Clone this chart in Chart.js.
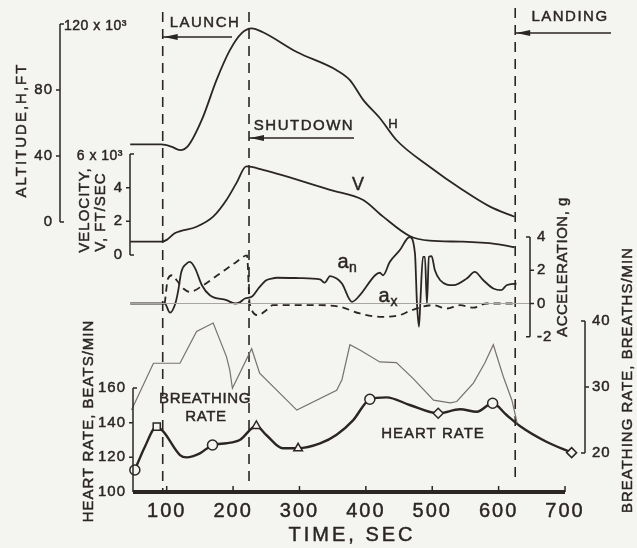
<!DOCTYPE html>
<html>
<head>
<meta charset="utf-8">
<script src="https://cdn.jsdelivr.net/npm/chart.js@4.4.1/dist/chart.umd.min.js"></script>
<style>
  html, body { margin: 0; padding: 0; background: #f4f4f1; }
  #wrap { width: 637px; height: 548px; }
</style>
</head>
<body>
<div id="wrap"><canvas id="flightChart"></canvas></div>
<script>
// time axis, sec
const timeTicks = [100, 200, 300, 400, 500, 600, 700];

// flight events
const eventNames = ['LAUNCH', 'SHUTDOWN', 'LANDING'];
const eventTimes = [94, 224, 625];

// altitude H, 10^3 ft
const altTime = [45, 92, 108, 120, 132, 153, 175, 195, 213, 228, 245, 296, 356, 376, 396, 421, 446, 496, 546, 587, 624];
const altValue = [47, 47, 45.5, 43.6, 46, 62, 86, 104, 114.5, 117.4, 115, 103, 92, 86, 74, 63, 49.7, 33.5, 19.4, 9.3, 3.2];

// velocity V, 10^3 ft/sec
const velTime = [45, 92, 100, 112, 145, 170, 190, 205, 220, 245, 346, 396, 426, 466, 496, 546, 597, 624];
const velValue = [0.79, 0.79, 0.9, 1.29, 1.68, 2.28, 3.27, 4.27, 5.26, 5.06, 3.87, 3.27, 2.28, 1.13, 0.85, 0.79, 0.65, 0.46];

// normal acceleration a_n, g
const anTime = [45, 97, 105, 113, 117, 122, 130, 135, 143, 153, 165, 190, 203, 210, 218, 228, 240, 250, 258, 266, 300, 331, 338, 346, 356, 364, 379, 391, 414, 421, 426, 436, 451, 466, 474, 477, 480, 482, 486, 489, 492, 495, 499, 504, 512, 532, 552, 564, 577, 592, 604, 612, 627];
const anValue = [0, 0, -0.55, 0, 0.7, 1.9, 2.4, 2.5, 2.1, 1.1, 0.5, 0.2, 0, 0.07, 0.3, 0.4, 1.0, 1.4, 1.5, 1.55, 1.53, 1.45, 1.25, 1.65, 1.5, 1.2, 0.1, 0.5, 1.7, 1.85, 1.7, 2.5, 3.2, 4.0, 3.0, 0, -1.4, 0, 2.8, 2.8, 0, 2.8, 2.85, 2.0, 1.4, 1.1, 1.5, 1.9, 1.4, 0.9, 0.8, 1.1, 1.2];

// longitudinal acceleration a_x, g
const axTime = [97, 102, 108, 115, 125, 135, 155, 180, 205, 221, 225, 238, 250, 260, 331, 361, 391, 421, 451, 469, 501, 522, 542, 562, 582, 612, 627];
const axValue = [0, 1.5, 1.7, 1.4, 0.9, 0.7, 1.1, 1.8, 2.5, 2.9, 0, -0.7, -0.4, -0.1, -0.1, -0.2, -0.6, -0.8, -0.7, -0.4, -0.1, -0.3, -0.1, -0.25, 0, 0, 0];

// breathing rate, breaths/min
const breathTime = [47, 80, 120, 145, 170, 190, 195, 199, 228, 240, 296, 356, 364, 376, 391, 421, 446, 471, 502, 527, 537, 562, 579, 592, 607, 620, 628];
const breathRate = [26.5, 33.6, 33.6, 38.4, 39.7, 34.6, 32.6, 29.8, 35.8, 32.1, 26.5, 29.5, 31.1, 36.4, 35.6, 33.8, 33.7, 31.3, 28.0, 27.6, 27.8, 30.6, 33.6, 36.4, 31.6, 28.0, 24.5];

// heart rate, beats/min, with the plotted reading symbols
const heartTime = [52, 67, 85, 95, 120, 130, 150, 169, 190, 210, 235, 250, 275, 298, 331, 356, 381, 406, 431, 466, 509, 542, 567, 591, 612, 632, 672, 710];
const heartRate = [112.7, 126, 137.7, 134.8, 121.3, 120, 122.3, 127.1, 128.1, 130, 138.1, 132.9, 125.2, 125.2, 128, 133, 141.5, 153.5, 154.6, 150.2, 145.4, 147.7, 146.3, 151.2, 144.4, 138.1, 129, 122.7];
const heartSymbol = ['circle', null, 'rect', null, null, null, null, 'circle', null, null, 'triangle', null, null, 'triangle', null, null, null, 'circle', null, null, 'rectRot', null, null, 'circle', null, null, null, 'rectRot'];

// axis ticks
const altTicks = [0, 40, 80, 120];
const velTicks = [0, 2, 4, 6];
const accTicks = [-2, 0, 2, 4];
const breathTicks = [20, 30, 40];
const heartTicks = [100, 120, 140, 160];

const ink = '#2b2623';
const paper = '#f4f4f1';
const W = 637, H = 548;
const font = '"Liberation Sans", Arial, sans-serif';

// min/max for a scale that puts value v0 at pixel p0 and v1 at p1
function range(v0, p0, v1, p1, size, flip) {
  const k = (v1 - v0) / (p1 - p0);
  const atStart = v0 - p0 * k;
  const atEnd = v0 + (size - p0) * k;
  return flip ? { min: atEnd, max: atStart } : { min: atStart, max: atEnd };
}

function pts(xs, ys) {
  return xs.map((x, i) => ({ x: x, y: ys[i] }));
}

// lettering: filled plus a thin outline so the strokes read like pen lettering
function text(ctx, str, x, y, size, spacing, align, upright) {
  ctx.save();
  ctx.translate(x, y);
  if (upright) ctx.rotate(-Math.PI / 2);
  ctx.font = size + 'px ' + font;
  ctx.letterSpacing = (spacing || 0) + 'px';
  ctx.textAlign = align || 'center';
  ctx.textBaseline = 'middle';
  ctx.fillStyle = ink;
  ctx.strokeStyle = ink;
  ctx.lineWidth = 0.45;
  ctx.fillText(str, 0, 0);
  ctx.strokeText(str, 0, 0);
  ctx.restore();
}

// vertical axis: end ticks turn toward the plot, inner ticks toward the numbers
function axis(ctx, scale, x, ticks, side, skipTop) {
  const top = scale.getPixelForValue(ticks[ticks.length - 1]);
  const bottom = scale.getPixelForValue(ticks[0]);
  ctx.save();
  ctx.strokeStyle = ink;
  ctx.lineWidth = 1.5;
  ctx.beginPath();
  ctx.moveTo(x, top);
  ctx.lineTo(x, bottom);
  ticks.forEach((v, i) => {
    const y = scale.getPixelForValue(v);
    const end = i === 0 || i === ticks.length - 1;
    ctx.moveTo(x, y);
    ctx.lineTo(x + (end ? -side : side) * 4, y);
  });
  ctx.stroke();
  ctx.restore();
  ticks.forEach((v, i) => {
    if (skipTop && i === ticks.length - 1) return;
    text(ctx, String(v), x + side * 7, scale.getPixelForValue(v), 15, 1, side < 0 ? 'right' : 'left');
  });
}

function arrow(ctx, x0, x1, y) {
  ctx.save();
  ctx.strokeStyle = ink;
  ctx.fillStyle = ink;
  ctx.lineWidth = 1.5;
  ctx.beginPath();
  ctx.moveTo(x0, y);
  ctx.lineTo(x1, y);
  ctx.stroke();
  ctx.beginPath();
  ctx.moveTo(x0 + 1, y);
  ctx.lineTo(x0 + 15, y - 3);
  ctx.lineTo(x0 + 15, y + 3);
  ctx.closePath();
  ctx.fill();
  ctx.restore();
}

const sheet = {
  id: 'sheet',
  beforeDraw(chart) {
    const ctx = chart.ctx;
    ctx.save();
    ctx.fillStyle = paper;
    ctx.fillRect(0, 0, chart.width, chart.height);
    ctx.restore();
  },
  beforeDatasetsDraw(chart) {
    const ctx = chart.ctx;
    const xs = chart.scales.x;
    const spans = [[12, 490], [12, 487], [8, 480]];
    ctx.save();
    ctx.strokeStyle = ink;
    ctx.lineWidth = 1.6;
    ctx.setLineDash([10, 7]);
    eventTimes.forEach((t, i) => {
      const x = xs.getPixelForValue(t);
      ctx.beginPath();
      ctx.moveTo(x, spans[i][0]);
      ctx.lineTo(x, spans[i][1]);
      ctx.stroke();
    });
    ctx.restore();
  },
  afterDatasetsDraw(chart) {
    const ctx = chart.ctx;
    const s = chart.scales;

    // time axis
    const y0 = s.yHR.getPixelForValue(100);
    ctx.save();
    ctx.strokeStyle = ink;
    ctx.lineWidth = 4;
    ctx.beginPath();
    ctx.moveTo(133, y0);
    ctx.lineTo(s.x.getPixelForValue(700), y0);
    ctx.stroke();
    ctx.lineWidth = 1.5;
    ctx.beginPath();
    timeTicks.forEach(t => {
      const x = s.x.getPixelForValue(t);
      ctx.moveTo(x, y0);
      ctx.lineTo(x, y0 - 6);
    });
    ctx.stroke();
    ctx.restore();
    timeTicks.forEach(t => text(ctx, String(t), s.x.getPixelForValue(t), 511, 20, 2));
    text(ctx, 'TIME, SEC', 352, 535, 20, 3);

    // left axes
    axis(ctx, s.yH, 60, altTicks, -1, true);
    text(ctx, '120 x 10³', 64, s.yH.getPixelForValue(120) + 2, 14, 0.5, 'left');
    text(ctx, 'ALTITUDE,H,FT', 22, 130, 15, 2, 'center', true);

    axis(ctx, s.yV, 130, velTicks, -1, true);
    text(ctx, '6 x 10³', 123, s.yV.getPixelForValue(6) + 2, 14, 0.5, 'right');
    text(ctx, 'VELOCITY,', 85, 210, 15, 1, 'center', true);
    text(ctx, 'V, FT/SEC', 101, 212, 15, 1, 'center', true);

    axis(ctx, s.yHR, 133, heartTicks, -1, false);
    text(ctx, 'HEART RATE, BEATS/MIN', 89, 421, 15, 1, 'center', true);

    // right axes
    axis(ctx, s.yA, 530, accTicks, 1, false);
    text(ctx, 'ACCELERATION, g', 563, 267, 15, 0.5, 'center', true);

    axis(ctx, s.yB, 585, breathTicks, 1, false);
    text(ctx, 'BREATHING RATE, BREATHS/MIN', 628, 380, 15, 1, 'center', true);

    // event arrows
    const arrows = [[37, 232, 205, 23], [138, 354, 304, 126], [33, 611, 570, 17]];
    eventNames.forEach((name, i) => {
      const x = s.x.getPixelForValue(eventTimes[i]);
      const a = arrows[i];
      arrow(ctx, x, a[1], a[0]);
      text(ctx, name, a[2], a[3], 15, 1.5);
    });

    // curve names
    text(ctx, 'H', 393, 124, 13, 0);
    text(ctx, 'V', 358, 185, 18, 0);
    text(ctx, 'a', 343, 262, 20, 0);
    text(ctx, 'n', 353, 268, 14, 0);
    text(ctx, 'a', 384, 296, 20, 0);
    text(ctx, 'x', 394, 302, 14, 0);
    text(ctx, 'BREATHING', 205, 399, 15, 0.6);
    text(ctx, 'RATE', 206, 417, 15, 0.6);
    text(ctx, 'HEART RATE', 433, 434, 15, 1);
  }
};

const heavy = { borderColor: ink, pointRadius: 0, fill: false, cubicInterpolationMode: 'monotone' };

new Chart(document.getElementById('flightChart'), {
  type: 'line',
  data: {
    datasets: [
      Object.assign({ label: 'H', data: pts(altTime, altValue), yAxisID: 'yH', borderWidth: 1.8 }, heavy),
      Object.assign({ label: 'V', data: pts(velTime, velValue), yAxisID: 'yV', borderWidth: 1.8 }, heavy),
      {
        label: 'zero g',
        data: pts([45, 647], [0, 0]),
        yAxisID: 'yA',
        borderColor: '#a9a6a2',
        borderWidth: 1,
        pointRadius: 0
      },
      Object.assign({ label: 'a_n', data: pts(anTime, anValue), yAxisID: 'yA', borderWidth: 1.8 }, heavy),
      Object.assign({ label: 'a_x', data: pts(axTime, axValue), yAxisID: 'yA', borderWidth: 1.8, borderDash: [7, 5] }, heavy),
      {
        label: 'Breathing rate',
        data: pts(breathTime, breathRate),
        yAxisID: 'yB',
        borderColor: '#77726d',
        borderWidth: 1.2,
        pointRadius: 0,
        tension: 0
      },
      Object.assign({}, heavy, {
        label: 'Heart rate',
        data: pts(heartTime, heartRate),
        yAxisID: 'yHR',
        borderWidth: 2.4,
        pointStyle: heartSymbol.map(p => p || 'circle'),
        pointRadius: heartSymbol.map(p => (p ? 5 : 0)),
        pointBackgroundColor: paper,
        pointBorderColor: ink,
        pointBorderWidth: 1.5
      })
    ]
  },
  options: {
    responsive: true,
    maintainAspectRatio: false,
    animation: false,
    events: [],
    layout: { padding: 0, autoPadding: false },
    plugins: { legend: { display: false }, tooltip: { enabled: false } },
    scales: {
      x: Object.assign({ type: 'linear', display: false }, range(100, 166.7, 700, 565, W, false)),
      yH: Object.assign({ type: 'linear', display: false }, range(0, 222, 120, 24, H, true)),
      yV: Object.assign({ type: 'linear', display: false }, range(0, 255, 6, 154, H, true)),
      yA: Object.assign({ type: 'linear', display: false }, range(0, 303.5, 4, 237, H, true)),
      yB: Object.assign({ type: 'linear', display: false }, range(20, 453, 40, 321, H, true)),
      yHR: Object.assign({ type: 'linear', display: false }, range(100, 492, 160, 388, H, true))
    }
  },
  plugins: [sheet]
});
</script>
</body>
</html>
